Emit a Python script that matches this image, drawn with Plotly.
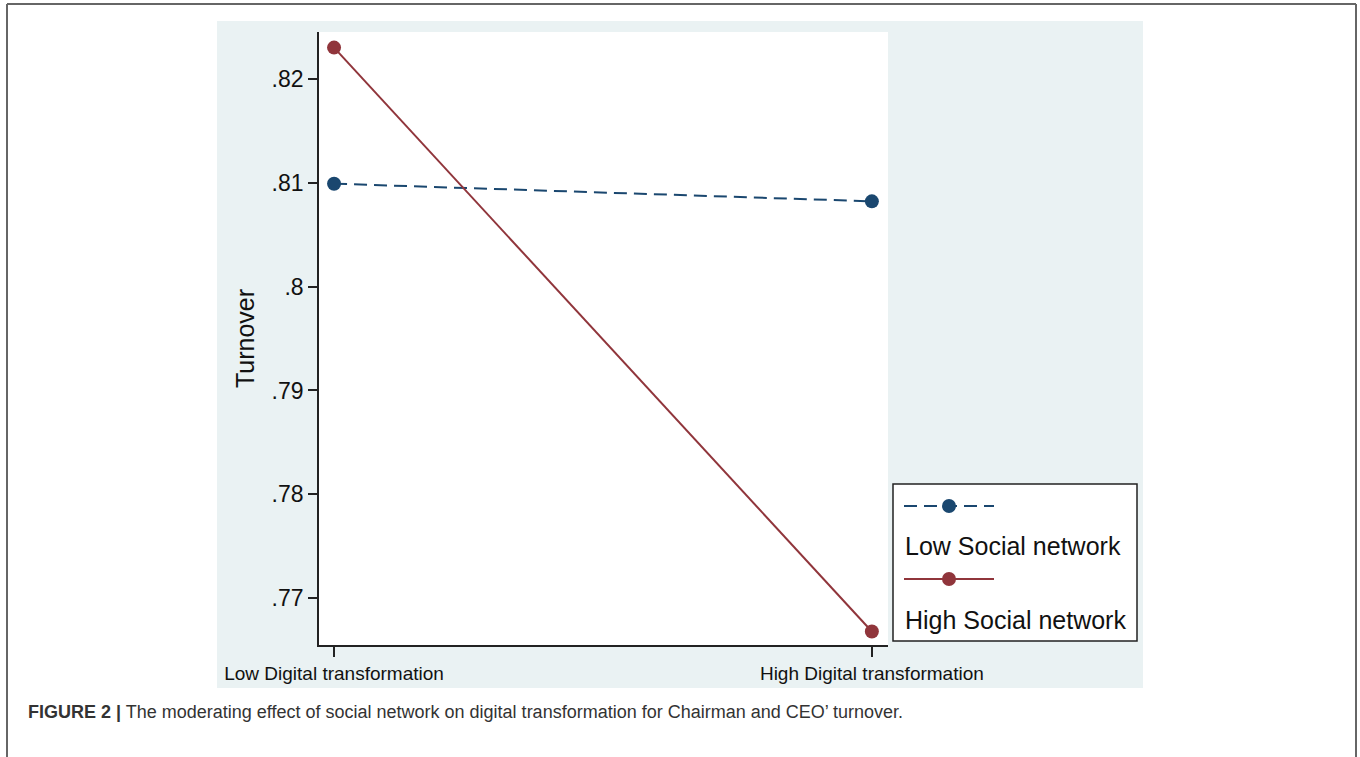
import plotly.graph_objects as go

# ---------------- data ----------------
categories = ["Low Digital transformation", "High Digital transformation"]
low_social = [0.8099, 0.8082]
high_social = [0.8230, 0.7668]
series_names = ["Low Social network", "High Social network"]
y_tickvals = [0.77, 0.78, 0.79, 0.80, 0.81, 0.82]
y_ticktext = [".77", ".78", ".79", ".8", ".81", ".82"]
caption = ("<b>FIGURE 2 |</b> The moderating effect of social network on digital "
           "transformation for Chairman and CEO\u2019 turnover.")

# ---------------- style ----------------
W_PX, H_PX = 1360, 757
L, R, T, B = 319, 888, 32, 645
PW, PH = R - L, B - T
NAVY = "#1a476f"
MAROON = "#90353b"
BG = "#eaf2f3"
AXIS = "#222222"
FONT = "Arial, Liberation Sans, sans-serif"


def fx(p):
    return (p - L) / PW


def fy(p):
    return (B - p) / PH


x_idx = [0, 1]

fig = go.Figure()
fig.add_trace(go.Scatter(
    x=x_idx, y=low_social, mode="lines+markers", name=series_names[0],
    line=dict(color=NAVY, width=2, dash="13px,7px"),
    marker=dict(color=NAVY, size=14, line=dict(width=0)),
    showlegend=False))
fig.add_trace(go.Scatter(
    x=x_idx, y=high_social, mode="lines+markers", name=series_names[1],
    line=dict(color=MAROON, width=2),
    marker=dict(color=MAROON, size=14, line=dict(width=0)),
    showlegend=False))

shapes = [
    # graph region background
    dict(type="rect", xref="paper", yref="paper", layer="below",
         x0=fx(217), x1=fx(1143), y0=fy(688), y1=fy(21),
         fillcolor=BG, line=dict(width=0)),
    # plot region
    dict(type="rect", xref="paper", yref="paper", layer="below",
         x0=0, x1=1, y0=0, y1=1, fillcolor="white", line=dict(width=0)),
    # outer frame
    dict(type="line", xref="paper", yref="paper", x0=fx(7), x1=fx(1356),
         y0=fy(4), y1=fy(4), line=dict(color="#666666", width=2)),
    dict(type="line", xref="paper", yref="paper", x0=fx(7), x1=fx(7),
         y0=fy(4), y1=fy(770), line=dict(color="#666666", width=2)),
    dict(type="line", xref="paper", yref="paper", x0=fx(1356), x1=fx(1356),
         y0=fy(4), y1=fy(770), line=dict(color="#666666", width=2)),
    # legend box
    dict(type="rect", xref="paper", yref="paper",
         x0=fx(893), x1=fx(1137), y0=fy(641), y1=fy(484),
         fillcolor="white", line=dict(color=AXIS, width=1.5)),
    # legend keys
    dict(type="line", xref="paper", yref="paper", x0=fx(904), x1=fx(994),
         y0=fy(506), y1=fy(506), line=dict(color=NAVY, width=2, dash="13px,7px")),
    dict(type="line", xref="paper", yref="paper", x0=fx(904), x1=fx(994),
         y0=fy(579), y1=fy(579), line=dict(color=MAROON, width=2)),
]
for yy, col in [(506, NAVY), (579, MAROON)]:
    shapes.append(dict(type="circle", xref="paper", yref="paper",
                       xsizemode="pixel", ysizemode="pixel",
                       xanchor=fx(949), yanchor=fy(yy),
                       x0=-7, x1=7, y0=-7, y1=7,
                       fillcolor=col, line=dict(width=0)))

annotations = [
    dict(xref="paper", yref="paper", x=fx(903), y=fy(546), xanchor="left",
         yanchor="middle", text=series_names[0], showarrow=False,
         font=dict(family=FONT, size=25, color="#111111")),
    dict(xref="paper", yref="paper", x=fx(903), y=fy(620), xanchor="left",
         yanchor="middle", text=series_names[1], showarrow=False,
         font=dict(family=FONT, size=25, color="#111111")),
    dict(xref="paper", yref="paper", x=fx(26), y=fy(712), xanchor="left",
         yanchor="middle", text=caption, showarrow=False,
         font=dict(family=FONT, size=18, color="#333333")),
]

fig.update_layout(
    width=W_PX, height=H_PX,
    margin=dict(l=L, r=W_PX - R, t=T, b=H_PX - B, pad=0),
    paper_bgcolor="white", plot_bgcolor="rgba(0,0,0,0)",
    font=dict(family=FONT, color="#111111"),
    shapes=shapes, annotations=annotations,
    showlegend=False,
    xaxis=dict(range=[-0.028, 1.03], tickvals=x_idx, ticktext=categories,
               showgrid=False, zeroline=False, showline=True,
               linecolor=AXIS, linewidth=1.6, ticks="outside", ticklen=10,
               tickwidth=1.6, tickcolor=AXIS, automargin=False,
               tickfont=dict(size=19, color="#111111"), ticklabelstandoff=0),
    yaxis=dict(range=[0.7655, 0.8245], tickvals=y_tickvals, ticktext=y_ticktext,
               showgrid=False, zeroline=False, showline=True,
               linecolor=AXIS, linewidth=1.6, ticks="outside", ticklen=9,
               tickwidth=1.6, tickcolor=AXIS, automargin=False,
               tickfont=dict(size=23, color="#111111"), ticklabelstandoff=0,
               title=dict(text="Turnover", font=dict(size=25, color="#111111"),
                          standoff=10)),
)

fig.write_html("out.html", config={"displayModeBar": False},
               post_script="document.body.style.margin='0';")
